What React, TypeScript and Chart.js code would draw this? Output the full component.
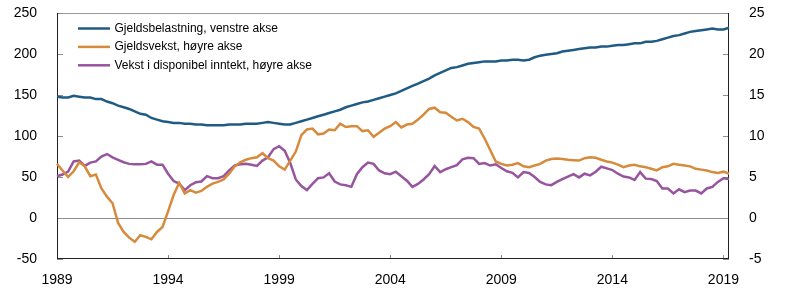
import { useEffect, useRef } from 'react';
import { Chart, registerables } from 'chart.js';

Chart.register(...registerables);

const startYear = 1989;
const quarterCount = 122;
const quarters: string[] = [];
for (let i = 0; i < quarterCount; i++) {
  quarters.push(`${startYear + Math.floor(i / 4)}K${(i % 4) + 1}`);
}

const seriesNames = [
  'Gjeldsbelastning, venstre akse',
  'Gjeldsvekst, høyre akse',
  'Vekst i disponibel inntekt, høyre akse',
];

// Gjeldsbelastning (left axis, per cent of income)
const debtBurden = [
  148, 147, 147, 149,
  148, 147, 147, 145,
  145, 142, 140, 137,
  135, 133, 130, 127,
  126, 122, 120, 118,
  117, 116, 116, 115,
  115, 114, 114, 113,
  113, 113, 113, 114,
  114, 114, 115, 115,
  115, 116, 117, 116,
  115, 114, 114, 116,
  118, 120, 122, 124,
  126, 128, 130, 132,
  135, 137, 139, 141,
  142, 144, 146, 148,
  150, 152, 155, 158,
  161, 164, 167, 170,
  174, 177, 180, 183,
  184, 186, 188, 189,
  190, 191, 191, 191,
  192, 192, 193, 193,
  192, 193, 196, 198,
  199, 200, 201, 203,
  204, 205, 206, 207,
  208, 208, 209, 209,
  210, 211, 211, 212,
  213, 213, 215, 215,
  216, 218, 220, 222,
  223, 225, 227, 228,
  229, 230, 231, 230,
  230, 232,
];

// Gjeldsvekst (right axis, per cent)
const debtGrowth = [
  6.6, 5.8, 5.0, 5.7,
  6.8, 6.3, 5.1, 5.3,
  3.6, 2.6, 1.8, -0.6,
  -1.7, -2.4, -2.9, -2.1,
  -2.3, -2.6, -1.7, -1.1,
  0.8, 2.8, 4.3, 3.0,
  3.4, 3.1, 3.3, 3.8,
  4.2, 4.4, 4.7, 5.4,
  6.3, 6.8, 7.1, 7.3,
  7.4, 7.9, 7.3, 7.0,
  6.3, 5.9, 7.0, 8.1,
  10.1, 10.8, 10.9, 10.2,
  10.3, 10.8, 10.7, 11.5,
  11.1, 11.2, 11.2, 10.6,
  10.7, 9.9, 10.4, 10.9,
  11.2, 11.7, 11.05, 11.4,
  11.5, 12.0, 12.6, 13.3,
  13.45, 12.9, 12.85, 12.35,
  11.9, 12.1, 11.7, 11.1,
  10.9, 9.7, 8.3, 6.9,
  6.6, 6.4, 6.5, 6.7,
  6.3, 6.2, 6.4, 6.6,
  7.0, 7.2, 7.25, 7.2,
  7.1, 7.05, 7.0, 7.3,
  7.4, 7.35, 7.1, 6.9,
  6.75, 6.5, 6.2, 6.4,
  6.5, 6.3, 6.2, 6.0,
  5.8, 6.2, 6.3, 6.6,
  6.5, 6.4, 6.3, 6.0,
  5.9, 5.8, 5.6, 5.5,
  5.65, 5.4,
];

// Vekst i disponibel inntekt (right axis, per cent)
const incomeGrowth = [
  5.1, 5.3, 5.65, 6.9,
  7.0, 6.35, 6.75, 6.9,
  7.5, 7.8, 7.4, 7.1,
  6.8, 6.6, 6.55, 6.55,
  6.6, 6.9, 6.5, 6.5,
  5.4, 4.5, 4.2, 3.4,
  4.0, 4.35, 4.45, 5.1,
  4.85, 4.85, 5.1, 5.8,
  6.4, 6.55, 6.6, 6.5,
  6.35, 7.0, 7.4, 8.4,
  8.75, 8.2, 6.7, 4.7,
  3.9, 3.4, 4.15, 4.85,
  4.95, 5.45, 4.45, 4.1,
  4.0, 3.8, 5.35, 6.2,
  6.75, 6.6, 5.8, 5.45,
  5.35, 5.65, 5.1, 4.55,
  3.8, 4.15, 4.7, 5.35,
  6.35, 5.6, 5.95, 6.2,
  6.45, 7.15, 7.35, 7.3,
  6.6, 6.7, 6.4, 6.55,
  6.1, 5.7, 5.5, 4.95,
  5.6, 5.5, 5.0, 4.4,
  4.1, 4.0, 4.4, 4.75,
  5.05, 5.35, 4.95, 5.4,
  5.2, 5.65, 6.25, 6.05,
  5.85, 5.4, 5.05, 4.95,
  4.65, 5.6, 4.8, 4.75,
  4.5, 3.6, 3.6, 3.0,
  3.5, 3.15, 3.35, 3.35,
  3.0, 3.6, 3.8, 4.4,
  4.85, 4.75,
];

const colors = ['#1f5b82', '#d68b3c', '#97549f'];
const FONT = 'Arial, "Liberation Sans", sans-serif';

const framePlugin = {
  id: 'frame',
  beforeDatasetsDraw(chart: any) {
    const { ctx, chartArea } = chart;
    const { left, right, top, bottom } = chartArea;
    const x = chart.scales.x;
    const yl = chart.scales.yL;
    const yr = chart.scales.yR;
    ctx.save();
    ctx.lineWidth = 1;
    // zero line
    ctx.strokeStyle = '#8c8c8c';
    const y0 = Math.round(yl.getPixelForValue(0)) + 0.5;
    ctx.beginPath();
    ctx.moveTo(left, y0);
    ctx.lineTo(right, y0);
    ctx.stroke();
    // top border
    ctx.strokeStyle = '#9a9a9a';
    ctx.beginPath();
    ctx.moveTo(left, Math.round(top) + 0.5);
    ctx.lineTo(right, Math.round(top) + 0.5);
    ctx.stroke();
    // tick marks
    ctx.strokeStyle = '#8c8c8c';
    ctx.beginPath();
    yl.ticks.forEach((t: any) => {
      const py = Math.round(yl.getPixelForValue(t.value)) + 0.5;
      ctx.moveTo(left, py);
      ctx.lineTo(left + 6, py);
    });
    yr.ticks.forEach((t: any) => {
      const py = Math.round(yr.getPixelForValue(t.value)) + 0.5;
      ctx.moveTo(right - 6, py);
      ctx.lineTo(right, py);
    });
    x.ticks.forEach((t: any) => {
      const px = Math.round(x.getPixelForValue(t.value)) + 0.5;
      ctx.moveTo(px, bottom);
      ctx.lineTo(px, bottom - 4);
    });
    ctx.stroke();
    // axis lines
    ctx.strokeStyle = '#222222';
    ctx.beginPath();
    ctx.moveTo(Math.round(left) + 0.5, top);
    ctx.lineTo(Math.round(left) + 0.5, bottom);
    ctx.moveTo(Math.round(right) - 0.5, top);
    ctx.lineTo(Math.round(right) - 0.5, bottom);
    ctx.moveTo(left, Math.round(bottom) - 0.5);
    ctx.lineTo(right, Math.round(bottom) - 0.5);
    ctx.stroke();
    ctx.restore();
  },
  afterDraw(chart: any) {
    const { ctx } = chart;
    ctx.save();
    ctx.font = `12px ${FONT}`;
    ctx.textBaseline = 'middle';
    ctx.textAlign = 'left';
    chart.data.datasets.forEach((ds: any, i: number) => {
      const y = 28.5 + i * 18.4;
      ctx.strokeStyle = ds.borderColor;
      ctx.lineWidth = 2.5;
      ctx.beginPath();
      ctx.moveTo(78, y);
      ctx.lineTo(110, y);
      ctx.stroke();
      ctx.fillStyle = '#000';
      ctx.fillText(ds.label, 114.5, y);
    });
    ctx.restore();
  },
};

const zeroPad = (scale: any) => {
  scale.paddingTop = 0;
  scale.paddingBottom = 0;
  scale.paddingLeft = 0;
  scale.paddingRight = 0;
};

export default function App() {
  const ref = useRef<HTMLCanvasElement | null>(null);

  useEffect(() => {
    document.body.style.margin = '0';
    const canvas = ref.current;
    if (!canvas) return;
    const chart = new Chart(canvas, {
      type: 'line',
      data: {
        labels: quarters,
        datasets: [
          { label: seriesNames[0], data: debtBurden, yAxisID: 'yL' },
          { label: seriesNames[1], data: debtGrowth, yAxisID: 'yR' },
          { label: seriesNames[2], data: incomeGrowth, yAxisID: 'yR' },
        ].map((d, i) => ({
          ...d,
          borderColor: colors[i],
          backgroundColor: colors[i],
          borderWidth: 2.5,
          pointRadius: 0,
          tension: 0,
          fill: false,
        })),
      },
      options: {
        animation: false,
        responsive: false,
        devicePixelRatio: 1,
        layout: { padding: { top: 13, left: 0, right: 0, bottom: 0 } },
        plugins: { legend: { display: false }, tooltip: { enabled: false } },
        scales: {
          x: {
            type: 'category',
            offset: false,
            grid: { display: false, drawTicks: false },
            border: { display: false },
            afterBuildTicks: (scale: any) => {
              scale.ticks = scale.ticks.filter((t: any) => t.value % 20 === 0);
            },
            afterFit: (scale: any) => {
              scale.height = 36;
              zeroPad(scale);
            },
            ticks: {
              autoSkip: false,
              maxRotation: 0,
              padding: 13,
              color: '#000',
              font: { family: FONT, size: 14 },
              callback: (v: any) => quarters[v as number].slice(0, 4),
            },
          },
          yL: {
            type: 'linear',
            position: 'left',
            min: -50,
            max: 250,
            grid: { display: false, drawTicks: false },
            border: { display: false },
            afterFit: (scale: any) => {
              scale.width = 57;
              zeroPad(scale);
            },
            ticks: {
              stepSize: 50,
              padding: 20,
              color: '#000',
              font: { family: FONT, size: 14 },
            },
          },
          yR: {
            type: 'linear',
            position: 'right',
            min: -5,
            max: 25,
            grid: { display: false, drawTicks: false },
            border: { display: false },
            afterFit: (scale: any) => {
              scale.width = 74;
              zeroPad(scale);
            },
            ticks: {
              stepSize: 5,
              padding: 20,
              color: '#000',
              font: { family: FONT, size: 14 },
            },
          },
        },
      },
      plugins: [framePlugin],
    });
    return () => chart.destroy();
  }, []);

  return (
    <div style={{ width: 803, height: 295 }}>
      <canvas ref={ref} width={803} height={295} style={{ display: 'block' }} />
    </div>
  );
}
